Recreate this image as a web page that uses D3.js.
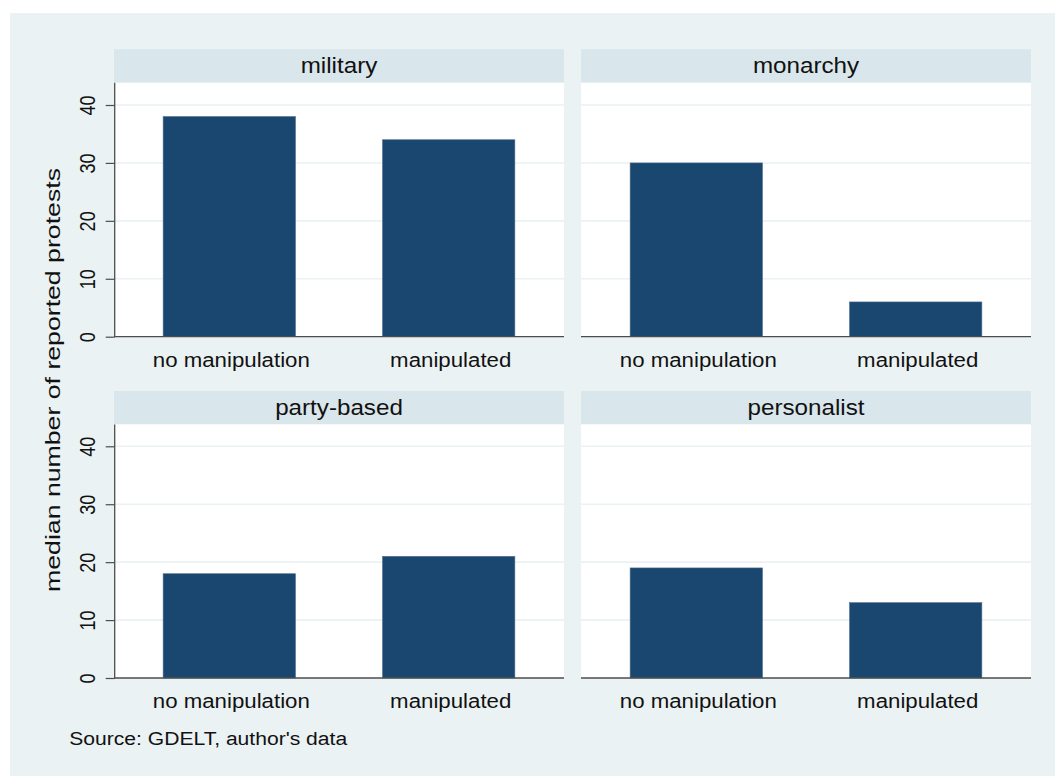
<!DOCTYPE html>
<html><head><meta charset="utf-8">
<script src="https://cdn.jsdelivr.net/npm/d3@7"></script>
<style>html,body{margin:0;padding:0;background:#fff;} svg{display:block;}</style>
</head><body>
<script>
const panels = ["military", "monarchy", "party-based", "personalist"];
const categories = ["no manipulation", "manipulated"];
const valuesNoManipulation = [38, 30, 18, 19];
const valuesManipulated = [34, 6, 21, 13];
const yTicks = [0, 10, 20, 30, 40];
const yTitle = "median number of reported protests";
const note = "Source: GDELT, author's data";

const W = 1055, H = 776;
const FONT = "'Liberation Sans', Arial, Helvetica, sans-serif";
const svg = d3.select("body").append("svg").attr("width", W).attr("height", H);

svg.append("rect").attr("x", 10).attr("y", 13).attr("width", W - 10).attr("height", H - 13).attr("fill", "#EAF2F3");

const colX = [114, 581], panelW = 450;
const stripTop = [49.3, 391], stripH = 33.4;
const plotBottom = [336.7, 678];

const x = d3.scaleBand().domain(categories).range([0, panelW]).paddingInner(0.397).paddingOuter(0.224);

panels.forEach((name, i) => {
  const col = i % 2, row = Math.floor(i / 2);
  const left = colX[col];
  const sTop = stripTop[row];
  const pTop = sTop + stripH;
  const pBot = plotBottom[row];
  const y = d3.scaleLinear().domain([0, 40]).range([pBot, pBot - 231.7]);
  const vals = [valuesNoManipulation[i], valuesManipulated[i]];
  const g = svg.append("g").attr("transform", `translate(${left},0)`);

  // strip
  g.append("rect").attr("x", 0).attr("y", sTop).attr("width", panelW).attr("height", stripH).attr("fill", "#D9E6EB");
  g.append("text").attr("x", panelW / 2).attr("y", sTop + 24)
    .attr("text-anchor", "middle").attr("font-family", FONT).attr("font-size", 22)
    .attr("fill", "#111")
    .attr("transform", `translate(${panelW / 2},0) scale(1.1,1) translate(${-panelW / 2},0)`)
    .text(name);

  // plot area
  g.append("rect").attr("x", 0).attr("y", pTop).attr("width", panelW).attr("height", pBot - pTop).attr("fill", "#fff");

  // gridlines
  g.selectAll(".grid").data(yTicks.filter(t => t > 0)).enter().append("line")
    .attr("x1", 0).attr("x2", panelW)
    .attr("y1", d => y(d)).attr("y2", d => y(d))
    .attr("stroke", "#EAF2F3").attr("stroke-width", 1.6);

  // bars
  g.selectAll(".bar").data(categories).enter().append("rect")
    .attr("x", d => x(d)).attr("width", x.bandwidth())
    .attr("y", (d, k) => y(vals[k])).attr("height", (d, k) => pBot - y(vals[k]))
    .attr("fill", "#1A476F").attr("stroke", "#4a6a8a").attr("stroke-width", 0.6);

  // x axis line
  g.append("line").attr("x1", 0).attr("x2", panelW).attr("y1", pBot).attr("y2", pBot)
    .attr("stroke", "#4d4d4d").attr("stroke-width", 1.3);

  // x labels
  g.selectAll(".xl").data(categories).enter().append("text")
    .attr("transform", d => `translate(${x(d) + x.bandwidth() / 2 + 2},${pBot + 30}) scale(1.06,1)`)
    .attr("text-anchor", "middle").attr("font-family", FONT).attr("font-size", 21).attr("fill", "#111")
    .text(d => d);

  // y axis on left column
  if (col === 0) {
    g.append("line").attr("x1", 0.7).attr("x2", 0.7).attr("y1", pTop).attr("y2", pBot)
      .attr("stroke", "#4d4d4d").attr("stroke-width", 1.3);
    const ax = g.append("g").attr("transform", "translate(0.7,0)")
      .call(d3.axisLeft(y).tickValues(yTicks).tickSize(9).tickSizeOuter(0).tickFormat(d3.format("d")));
    ax.select(".domain").remove();
    ax.selectAll(".tick line").attr("stroke", "#4d4d4d").attr("stroke-width", 1.2);
    ax.selectAll(".tick text")
      .attr("x", null).attr("dy", null)
      .attr("transform", "translate(-19.5,0) rotate(-90) scale(0.82,1)")
      .attr("text-anchor", "middle").attr("font-family", FONT).attr("font-size", 22).attr("fill", "#111");
  }
});

// y title
svg.append("text")
  .attr("transform", "translate(60,380) rotate(-90) scale(1.27,1)")
  .attr("text-anchor", "middle").attr("font-family", FONT).attr("font-size", 21).attr("fill", "#111")
  .text(yTitle);

// note
svg.append("text")
  .attr("transform", "translate(69.3,745) scale(1.11,1)")
  .attr("font-family", FONT).attr("font-size", 19).attr("fill", "#111")
  .text(note);
</script>
</body></html>
